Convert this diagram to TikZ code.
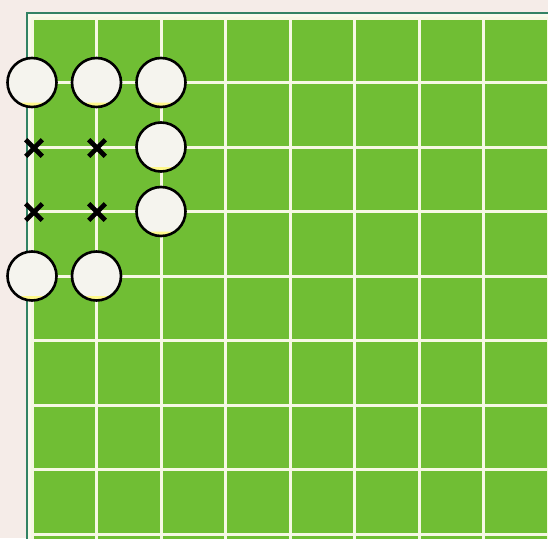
\documentclass[tikz,border=0pt]{standalone}
\usetikzlibrary{shapes.misc}
\definecolor{boardgreen}{RGB}{112,190,52}
\definecolor{gridwhite}{RGB}{246,248,228}
\definecolor{edgeteal}{RGB}{50,130,100}
\definecolor{paper}{RGB}{245,236,232}
\definecolor{stonefill}{RGB}{245,244,238}
\tikzset{
  stone/.style={circle, draw=black, line width=2.6pt, fill=stonefill, minimum size=49pt, inner sep=0pt,
    path picture={\fill[yellow!45] ([xshift=-14pt,yshift=-20pt]path picture bounding box.center) arc[start angle=200,end angle=340,radius=15pt] -- cycle;}},
  xmark/.style={cross out, draw=black, line width=4.6pt, minimum size=12pt, inner sep=0pt},
  gridline/.style={draw=gridwhite, line width=3pt}
}
\begin{document}
\begin{tikzpicture}[x=1pt,y=-1pt]
\useasboundingbox (0,0) rectangle (548,538);
\fill[paper] (0,0) rectangle (548,538);
\begin{scope}
\clip (0,0) rectangle (548,538);
\draw[edgeteal, line width=2.4pt] (27,13) rectangle (560,550);
\fill[gridwhite!70!white] (28.2,14.2) rectangle (560,550);
\fill[boardgreen] (32,18) rectangle (560,550);
\foreach \i in {0,...,8} {
  \draw[gridline] ({32+64.5*\i},18) -- ({32+64.5*\i},540);
  \draw[gridline] (32,{18+64.5*\i}) -- (550,{18+64.5*\i});
}
\end{scope}
\node[stone] (s1) at (32,82.5) {};
\node[stone] (s2) at (96.5,82.5) {};
\node[stone] (s3) at (161,82.5) {};
\node[stone] (s4) at (161,147) {};
\node[stone] (s5) at (161,211.5) {};
\node[stone] (s6) at (32,276) {};
\node[stone] (s7) at (96.5,276) {};
\node[xmark] (x1) at (34,148) {};
\node[xmark] (x2) at (97,148) {};
\node[xmark] (x3) at (34,212) {};
\node[xmark] (x4) at (97,212) {};
\end{tikzpicture}
\end{document}
